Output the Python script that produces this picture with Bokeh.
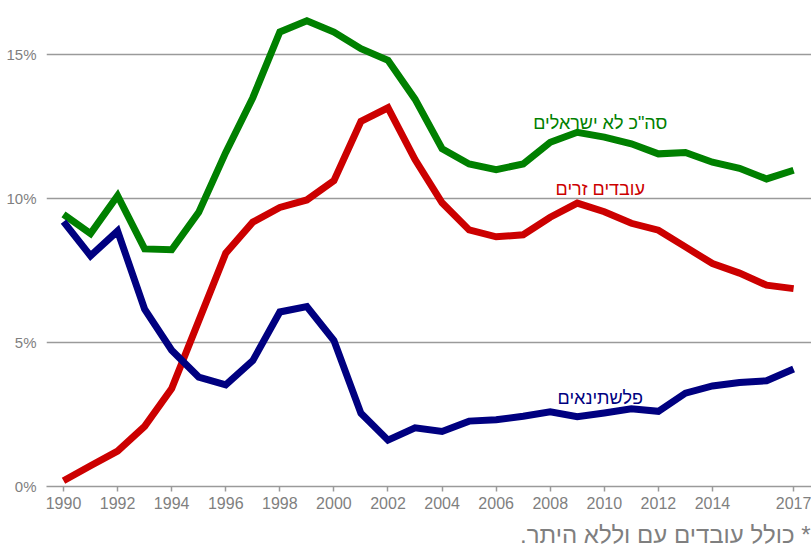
from bokeh.plotting import figure
from bokeh.models import ColumnDataSource, FixedTicker, Range1d, Label, Title, CustomJSTickFormatter
from bokeh.embed import file_html
from bokeh.resources import INLINE

years = list(range(1990, 2018))
total_non_israeli = [9.45, 8.78, 10.1, 8.25, 8.22, 9.52, 11.6, 13.5, 15.78, 16.17,
                     15.78, 15.2, 14.8, 13.45, 11.73, 11.2, 11.0, 11.2, 11.95, 12.3,
                     12.13, 11.9, 11.55, 11.6, 11.26, 11.05, 10.68, 10.98]
foreign_workers = [0.2, 0.72, 1.23, 2.09, 3.4, 5.75, 8.1, 9.18, 9.69, 9.95,
                   10.62, 12.68, 13.15, 11.35, 9.85, 8.91, 8.67, 8.74, 9.35, 9.84,
                   9.54, 9.14, 8.9, 8.32, 7.74, 7.41, 6.99, 6.87]
palestinians = [9.2, 8.01, 8.87, 6.16, 4.73, 3.8, 3.53, 4.37, 6.06, 6.25,
                5.07, 2.54, 1.61, 2.04, 1.91, 2.27, 2.32, 2.44, 2.59, 2.42,
                2.55, 2.7, 2.61, 3.24, 3.49, 3.61, 3.67, 4.08]

x_ticks = [1990, 1992, 1994, 1996, 1998, 2000, 2002, 2004, 2006, 2008, 2010, 2012, 2014, 2017]
y_ticks = [0, 5, 10, 15]

label_total = 'סה"כ לא ישראלים'
label_foreign = "עובדים זרים"
label_pal = "פלשתינאים"
footnote = "כולל עובדים עם וללא היתר.\u200f *"

GREEN = "#008000"
RED = "#cc0000"
NAVY = "#000080"
GRID = "#9a9a9a"
TXT = "#7f7f7f"

W, H = 811, 557
p = figure(width=W, height=H, output_backend="svg", toolbar_location=None,
           x_range=Range1d(1989.371, 2017.662), y_range=Range1d(0, 16.528),
           min_border_left=46, min_border_right=0, min_border_top=10, min_border_bottom=71)
p.outline_line_color = None
p.background_fill_color = "white"
p.border_fill_color = "white"

src = ColumnDataSource(dict(year=years, total=total_non_israeli,
                            foreign=foreign_workers, pal=palestinians))
p.line("year", "total", source=src, line_color=GREEN, line_width=7, line_join="miter")
p.line("year", "foreign", source=src, line_color=RED, line_width=7, line_join="miter")
p.line("year", "pal", source=src, line_color=NAVY, line_width=7, line_join="miter")

# axes
p.xaxis.ticker = FixedTicker(ticks=x_ticks)
p.xaxis.axis_line_color = GRID
p.xaxis.axis_line_width = 1.5
p.xaxis.major_tick_line_color = GRID
p.xaxis.major_tick_line_width = 1.5
p.xaxis.major_tick_out = 5
p.xaxis.major_tick_in = 0
p.xaxis.minor_tick_line_color = None
p.xaxis.major_label_standoff = 5
p.xaxis.major_label_text_color = TXT
p.xaxis.major_label_text_font = "Liberation Sans"
p.xaxis.major_label_text_font_size = "16px"
p.xaxis.formatter = CustomJSTickFormatter(code="return tick.toFixed(0);")

p.yaxis.ticker = FixedTicker(ticks=y_ticks)
p.yaxis.axis_line_color = None
p.yaxis.major_tick_line_color = None
p.yaxis.minor_tick_line_color = None
p.yaxis.major_label_standoff = 4
p.yaxis.major_label_text_color = TXT
p.yaxis.major_label_text_font = "Liberation Sans"
p.yaxis.major_label_text_font_size = "15px"
p.yaxis.formatter = CustomJSTickFormatter(code="return tick.toFixed(0) + '%';")

p.xgrid.grid_line_color = None
p.ygrid.ticker = FixedTicker(ticks=[5, 10, 15])
p.ygrid.grid_line_color = GRID
p.ygrid.grid_line_width = 1.5

# series labels
p.add_layout(Label(x=2009.85, y=12.62, text=label_total, text_align="center",
                   text_baseline="middle", text_color=GREEN, text_font="Liberation Sans",
                   text_font_size="18px"))
p.add_layout(Label(x=2009.85, y=10.33, text=label_foreign, text_align="center",
                   text_baseline="middle", text_color=RED, text_font="Liberation Sans",
                   text_font_size="18px"))
p.add_layout(Label(x=2009.85, y=3.08, text=label_pal, text_align="center",
                   text_baseline="middle", text_color=NAVY, text_font="Liberation Sans",
                   text_font_size="18px"))

# footnote
p.add_layout(Title(text=footnote, align="right", offset=1, standoff=14,
                   vertical_align="bottom",
                   text_color=TXT, text_font="Liberation Sans", text_font_style="normal",
                   text_font_size="24px"), "below")

open("out.html", "w").write(file_html(p, INLINE))
